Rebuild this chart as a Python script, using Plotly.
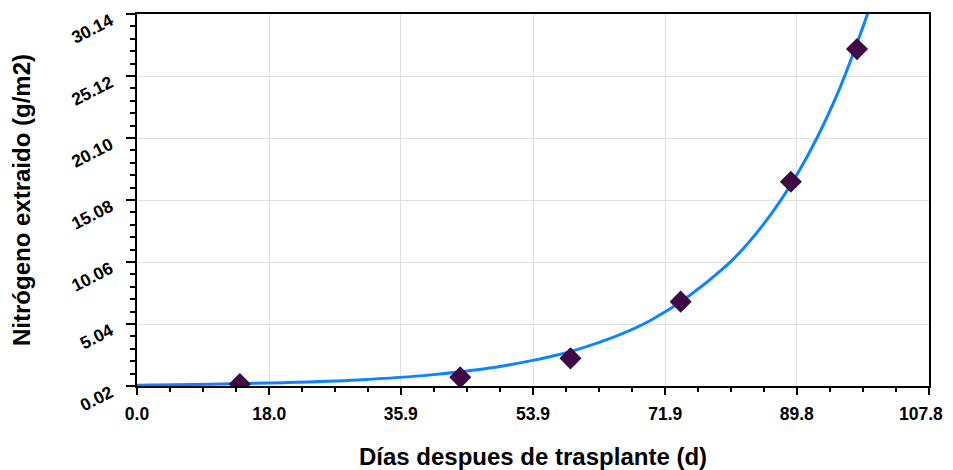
import plotly.graph_objects as go

# Observed data (days after transplant, extracted nitrogen g/m2)
dias = [14.0, 44.0, 59.0, 74.0, 89.0, 98.0]
nitrogeno = [0.18, 0.72, 2.26, 6.85, 16.56, 27.30]

# Fitted curve
curva_x = [0, 10, 20, 30, 40, 50, 60, 70, 80, 85, 90, 95, 100]
curva_y = [0.09, 0.16, 0.29, 0.51, 0.92, 1.66, 2.98, 5.36, 9.64, 12.9, 17.3, 23.2, 31.1]

x_ticks = [0.0, 18.0, 35.9, 53.9, 71.9, 89.8, 107.8]
x_tick_labels = ["0.0", "18.0", "35.9", "53.9", "71.9", "89.8", "107.8"]
y_ticks = [0.02, 5.04, 10.06, 15.08, 20.10, 25.12, 30.14]
y_tick_labels = ["0.02", "5.04", "10.06", "15.08", "20.10", "25.12", "30.14"]

FONT = "Liberation Sans, Arial, sans-serif"
TICKFONT = dict(family=FONT, size=17.5, color="black", weight="bold")

fig = go.Figure()
fig.add_trace(go.Scatter(
    x=curva_x, y=curva_y, mode="lines",
    line=dict(color="#0a84ff", width=3, shape="spline"),
    hoverinfo="skip", showlegend=False,
))
fig.add_trace(go.Scatter(
    x=dias, y=nitrogeno, mode="markers",
    marker=dict(symbol="diamond", size=17, color="#400a45"),
    showlegend=False,
))

# page body has an 8px margin, so the figure is offset by (8, 8)
fig.update_layout(
    width=945, height=462,
    margin=dict(l=129, r=24, t=6, b=84, autoexpand=False),
    paper_bgcolor="white", plot_bgcolor="white",
    font=dict(family=FONT, color="black"),
)
# last x tick label drawn as an annotation, nudged so it is not cut at the page edge
fig.add_annotation(
    x=x_ticks[-1], xref="x", y=0, yref="paper",
    text=x_tick_labels[-1], showarrow=False,
    xanchor="right", yanchor="top", xshift=16, yshift=-16,
    font=TICKFONT,
)
fig.update_xaxes(
    range=[0, 107.8], automargin=False,
    tickmode="array", tickvals=x_ticks,
    ticktext=x_tick_labels[:-1] + [""],
    ticks="outside", ticklen=7, tickwidth=1.5, tickcolor="black",
    ticklabelstandoff=4, ticklabeloverflow="allow",
    tickfont=TICKFONT,
    showline=True, linecolor="black", linewidth=2, mirror=True,
    showgrid=True, gridcolor="#e0e0e0", gridwidth=1,
    zeroline=False,
    minor=dict(tickmode="linear", tick0=0, dtick=107.8 / 24, ticks="outside",
               ticklen=4, tickwidth=1.5, tickcolor="black", showgrid=False),
    title=dict(text="Días despues de trasplante (d)",
               font=dict(family=FONT, size=24, color="black", weight="bold"),
               standoff=28),
)
fig.update_yaxes(
    range=[0.02, 30.14], automargin=False,
    tickmode="array", tickvals=y_ticks, ticktext=y_tick_labels,
    ticks="outside", ticklen=9, tickwidth=1.5, tickcolor="black",
    tickangle=-27, ticklabelstandoff=12, ticklabelshift=5,
    ticklabeloverflow="allow",
    tickfont=TICKFONT,
    showline=True, linecolor="black", linewidth=2, mirror=True,
    showgrid=True, gridcolor="#e0e0e0", gridwidth=1,
    zeroline=False,
    minor=dict(tickmode="linear", tick0=0.02, dtick=1.004, ticks="outside",
               ticklen=5, tickwidth=1.5, tickcolor="black", showgrid=False),
    title=dict(text="Nitrógeno extraido (g/m2)",
               font=dict(family=FONT, size=24, color="black", weight="bold"),
               standoff=36),
)

fig.write_html("out.html")
